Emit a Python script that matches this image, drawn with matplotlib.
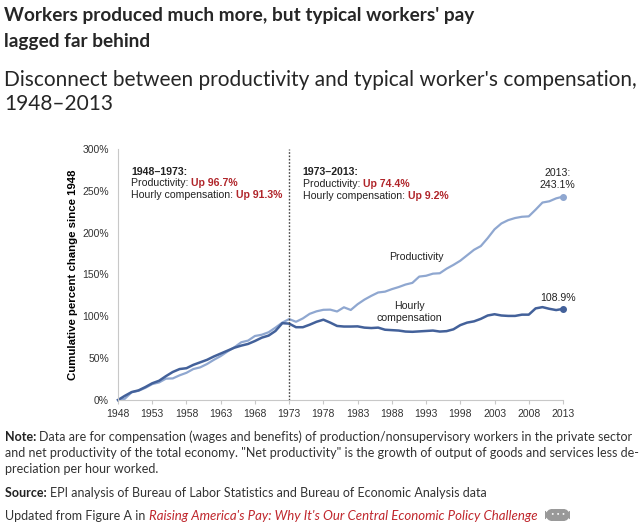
import matplotlib
matplotlib.use('Agg')
import matplotlib.pyplot as plt
from matplotlib.patches import FancyBboxPatch

years = list(range(1948, 2014))
productivity = [0, 1.5, 9.3, 11.0, 14.5, 19.0, 21.0, 25.5, 25.8, 29.5,
                32.5, 37.0, 39.0, 43.0, 48.0, 52.5, 58.0, 63.0, 69.0, 71.0,
                76.5, 78.0, 81.0, 86.5, 92.5, 96.7, 93.5, 97.5, 103.0, 106.0,
                107.8, 108.0, 105.8, 110.8, 107.6, 114.5, 120.0, 124.5, 128.5, 129.5,
                132.5, 135.0, 138.0, 140.0, 147.5, 148.5, 151.0, 151.5, 157.0, 161.5,
                166.5, 173.0, 179.5, 184.0, 193.5, 204.0, 211.0, 215.0, 217.5, 219.0,
                219.5, 227.5, 236.0, 237.5, 241.0, 243.1]
compensation = [0, 5.0, 9.5, 11.5, 15.5, 20.0, 23.0, 28.5, 33.5, 37.0,
                38.0, 42.0, 45.0, 48.0, 52.0, 55.5, 59.0, 62.5, 65.0, 67.0,
                70.5, 74.5, 77.0, 82.5, 91.8, 91.3, 87.0, 87.0, 90.0, 93.5,
                96.0, 92.5, 88.5, 87.8, 87.8, 88.0, 86.5, 86.0, 86.5, 84.0,
                83.5, 83.0, 81.8, 81.5, 82.0, 82.5, 83.0, 81.8, 82.3, 84.5,
                89.5, 92.5, 94.0, 97.0, 101.0, 102.5, 101.0, 100.5, 100.5, 102.0,
                102.0, 109.5, 111.0, 109.0, 107.5, 108.9]
xticks = list(range(1948, 2014, 5))
yticks = [0, 50, 100, 150, 200, 250, 300]

W, H = 640, 529
prod_col = '#8fa7d0'
comp_col = '#43619a'
red = '#b0252a'

fig = plt.figure(figsize=(6.4, 5.29), dpi=100)
r = fig.canvas.get_renderer()
ax = fig.add_axes([118 / W, 1 - 400 / H, (563 - 118) / W, (400 - 149) / H])

ax.plot(years, productivity, color=prod_col, lw=1.6, clip_on=False)
ax.plot(years, compensation, color=comp_col, lw=1.8, clip_on=False)
ax.plot(years[-1], productivity[-1], 'o', color=prod_col, ms=4, clip_on=False)
ax.plot(years[-1], compensation[-1], 'o', color=comp_col, ms=4, clip_on=False)
ax.axvline(1973, color='#444444', lw=1, ls=(0, (1.2, 1.2)))

ax.set_xlim(1948, 2013)
ax.set_ylim(0, 300)
ax.set_xticks(xticks)
ax.set_yticks(yticks)
ax.set_yticklabels([f'{v}%' for v in yticks])
for s in ['top', 'right']:
    ax.spines[s].set_visible(False)
for s in ['left', 'bottom']:
    ax.spines[s].set_color('#c8c8c8')
ax.tick_params(axis='both', colors='#c8c8c8', labelcolor='#333333',
               labelsize=7.5, length=3)
ax.tick_params(axis='y', length=0, pad=6.5)
for lab in ax.get_xticklabels() + ax.get_yticklabels():
    lab.set_fontfamily('Liberation Sans')
ax.set_ylabel('Cumulative percent change since 1948', fontsize=8.2,
              fontweight='bold', family='Liberation Sans', labelpad=3)

cf = dict(family='Liberation Sans', fontsize=7.6, color='#222222', va='center')
ax.text(1949.9, 273, '1948–1973:', fontweight='bold', **cf)
ax.text(1975.0, 272, '1973–2013:', fontweight='bold', **cf)


def rich(x, y, parts, ax_obj, **kw):
    # kolejne kawałki tekstu w jednej linii
    for txt, style in parts:
        t = ax_obj.text(x, y, txt, **{**kw, **style})
        bb = t.get_window_extent(renderer=r)
        inv = ax_obj.transData.inverted()
        x0 = inv.transform((bb.x0, bb.y0))[0]
        x1 = inv.transform((bb.x1, bb.y0))[0]
        x = x + (x1 - x0)


redb = dict(fontweight='bold', color=red)
rich(1949.9, 259, [('Productivity: ', {}), ('Up 96.7%', redb)], ax, **cf)
rich(1949.9, 245, [('Hourly compensation: ', {}), ('Up 91.3%', redb)], ax, **cf)
rich(1975.0, 258, [('Productivity: ', {}), ('Up 74.4%', redb)], ax, **cf)
rich(1975.0, 244, [('Hourly compensation: ', {}), ('Up 9.2%', redb)], ax, **cf)

ax.text(2012.2, 264, '2013:\n243.1%', ha='center', linespacing=1.2, **cf)
ax.text(2012.2, 121.5, '108.9%', ha='center', **cf)
ax.text(1991.6, 171, 'Productivity', ha='center', **cf)
ax.text(1990.6, 105, 'Hourly\ncompensation', ha='center', linespacing=1.2, **cf)


def fx(px):
    return px / W


def fy(py):
    return 1 - py / H


def fit(t, width_px):
    # dopasowanie rozmiaru czcionki do szerokości z oryginału
    w = t.get_window_extent(renderer=r).width
    t.set_fontsize(t.get_fontsize() * width_px / w)
    return t.get_fontsize()


tf = dict(family='Lato', color='#262626', va='center')
t1 = fig.text(fx(4), fy(16), "Workers produced much more, but typical workers' pay",
              fontsize=14.5, fontweight='bold', **tf)
ts = fit(t1, 469)
fig.text(fx(4), fy(41), 'lagged far behind', fontsize=ts, fontweight='bold', **tf)
t2 = fig.text(fx(4), fy(80), "Disconnect between productivity and typical worker's compensation,",
              fontsize=14.5, **tf)
ss = fit(t2, 630)
fig.text(fx(4), fy(104), '1948–2013', fontsize=ss, **tf)


def fig_rich(x, y, parts, **kw):
    for txt, style in parts:
        t = fig.text(x, y, txt, **{**kw, **style})
        bb = t.get_window_extent(renderer=r)
        x = x + bb.width / W
    return x


nf = dict(family='Lato', fontsize=9.0, color='#333333', va='center')
nb = dict(fontweight='bold', color='#222222')
fig_rich(fx(5), fy(437), [('Note: ', nb),
                          ('Data are for compensation (wages and benefits) of production/nonsupervisory workers in the private sector', {})], **nf)
fig.text(fx(5), fy(453), 'and net productivity of the total economy. "Net productivity" is the growth of output of goods and services less de-', **nf)
fig.text(fx(5), fy(469), 'preciation per hour worked.', **nf)
fig_rich(fx(5), fy(493), [('Source: ', nb),
                          ('EPI analysis of Bureau of Labor Statistics and Bureau of Economic Analysis data', {})], **nf)
xe = fig_rich(fx(5), fy(516), [('Updated from Figure A in ', {}),
                               ("Raising America's Pay: Why It's Our Central Economic Policy Challenge",
                                dict(style='italic', color='#c0272d', fontsize=9.5))], **nf)

bx = fig.add_axes([xe + fx(8), fy(521), fx(25), 12 / H])
bx.set_axis_off()
bx.add_patch(FancyBboxPatch((0, 0), 1, 1, boxstyle='round,pad=0,rounding_size=0.4',
                            transform=bx.transAxes, color='#999999', mutation_aspect=25 / 12))
bx.text(0.5, 0.5, '• • •', ha='center', va='center', color='white', fontsize=4,
        fontweight='bold', transform=bx.transAxes)

fig.savefig('out.png', dpi=100)
